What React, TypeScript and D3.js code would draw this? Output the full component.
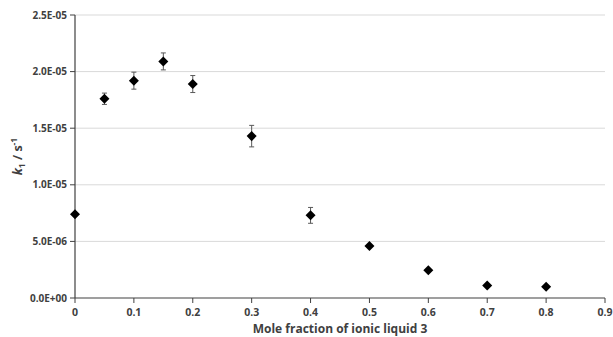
import React from "react";
import * as d3 from "d3";

const xValues = [0, 0.05, 0.1, 0.15, 0.2, 0.3, 0.4, 0.5, 0.6, 0.7, 0.8];
const kValues = [7.4e-6, 1.76e-5, 1.92e-5, 2.09e-5, 1.89e-5, 1.43e-5, 7.3e-6, 4.6e-6, 2.45e-6, 1.1e-6, 1.0e-6];
const kErrors = [0, 0.5e-6, 0.75e-6, 0.75e-6, 0.75e-6, 0.95e-6, 0.7e-6, 0, 0, 0, 0];
const xTicks = [0, 0.1, 0.2, 0.3, 0.4, 0.5, 0.6, 0.7, 0.8, 0.9];
const yTicks = [0, 5e-6, 1e-5, 1.5e-5, 2e-5, 2.5e-5];
const yTickLabels = ["0.0E+00", "5.0E-06", "1.0E-05", "1.5E-05", "2.0E-05", "2.5E-05"];

const W = 613, H = 337;
const left = 75, right = 605, top = 15, bottom = 298;
const font = "'Open Sans', 'Liberation Sans', Arial, sans-serif";
const textColor = "#404040";

export default function App() {
  const x = d3.scaleLinear().domain([0, 0.9]).range([left, right]);
  const y = d3.scaleLinear().domain([0, 2.5e-5]).range([bottom, top]);
  const diamond = d3.symbol().type(d3.symbolDiamond2 || d3.symbolDiamond).size(64)();

  return (
    <svg width={W} height={H} style={{ position: "absolute", left: 0, top: 0, background: "#fff" }}>
      {yTicks.slice(1).map((t) => (
        <line key={"g" + t} x1={left} x2={right} y1={y(t)} y2={y(t)} stroke="#d9d9d9" strokeWidth={1} />
      ))}
      <line x1={left} x2={left} y1={top} y2={bottom} stroke="#404040" strokeWidth={1.2} />
      <line x1={left} x2={right} y1={bottom} y2={bottom} stroke="#404040" strokeWidth={1.2} />
      {yTicks.map((t, i) => (
        <g key={"y" + t}>
          <line x1={left - 5} x2={left} y1={y(t)} y2={y(t)} stroke="#404040" strokeWidth={1} />
          <text x={left - 8} y={y(t)} dy="0.35em" textAnchor="end" fontFamily={font} fontWeight="bold" fontSize={10} fill={textColor}>
            {yTickLabels[i]}
          </text>
        </g>
      ))}
      {xTicks.map((t) => (
        <g key={"x" + t}>
          <line x1={x(t)} x2={x(t)} y1={bottom} y2={bottom + 5} stroke="#404040" strokeWidth={1} />
          <text x={x(t)} y={bottom + 18} textAnchor="middle" fontFamily={font} fontWeight="bold" fontSize={10.5} fill={textColor}>
            {String(t)}
          </text>
        </g>
      ))}
      <text x={(left + right) / 2} y={333} textAnchor="middle" fontFamily={font} fontWeight="bold" fontSize={12} fill={textColor}>
        Mole fraction of ionic liquid 3
      </text>
      <text transform={`translate(22, ${(top + bottom) / 2}) rotate(-90)`} textAnchor="middle" fontFamily={font} fontWeight="bold" fontSize={12.5} fill={textColor}>
        <tspan fontStyle="italic">k</tspan>
        <tspan fontSize={8.5} dy={3}>1</tspan>
        <tspan dy={-3}> / s</tspan>
        <tspan fontSize={8.5} dy={-5}>-1</tspan>
      </text>
      {xValues.map((xv, i) => {
        const e = kErrors[i];
        const cx = x(xv);
        return (
          <g key={"p" + i}>
            {e > 0 && (
              <g stroke="#595959" strokeWidth={1}>
                <line x1={cx} x2={cx} y1={y(kValues[i] - e)} y2={y(kValues[i] + e)} />
                <line x1={cx - 2.5} x2={cx + 2.5} y1={y(kValues[i] - e)} y2={y(kValues[i] - e)} />
                <line x1={cx - 2.5} x2={cx + 2.5} y1={y(kValues[i] + e)} y2={y(kValues[i] + e)} />
              </g>
            )}
            <path d={diamond || ""} transform={`translate(${cx},${y(kValues[i])})`} fill="#000" />
          </g>
        );
      })}
    </svg>
  );
}
